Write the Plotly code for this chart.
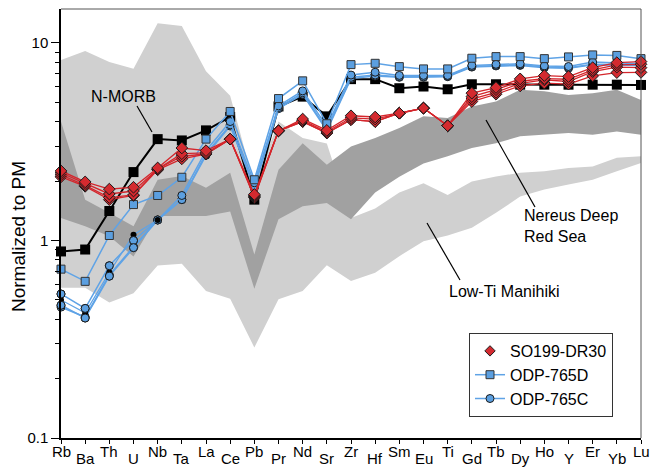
import plotly.graph_objects as go

# ---------------- data ----------------
elements = ["Rb", "Ba", "Th", "U", "Nb", "Ta", "La", "Ce", "Pb", "Pr", "Nd", "Sr", "Zr",
            "Hf", "Sm", "Eu", "Ti", "Gd", "Tb", "Dy", "Ho", "Y", "Er", "Yb", "Lu"]

# Low-Ti Manihiki field (light grey)
manihiki_upper = [8.2, 9.1, 8.0, 7.4, 12.6, 12.2, 7.2, 5.4, 1.9, 4.0, 3.3, 3.1, 1.3,
                  1.45, 1.75, 1.95, 1.7, 1.99, 2.11, 2.2, 2.24, 2.33, 2.37, 2.62, 2.67]
manihiki_lower = [0.577, 0.577, 0.485, 0.54, 0.748, 0.763, 0.555, 0.507, 0.287, 0.504, 0.555, 0.75, 0.623,
                  0.687, 0.833, 0.99, 1.06, 1.16, 1.38, 1.67, 1.81, 1.92, 2.03, 2.24, 2.47]

# Nereus Deep Red Sea field (dark grey)
nereus_upper = [4.0, 1.61, 1.38, 1.18, 2.03, 2.12, 1.85, 2.2, 0.85, 2.28, 3.11, 2.42, 2.99,
                3.3, 3.71, 4.25, 4.17, 4.77, 5.05, 5.79, 5.69, 5.46, 5.57, 5.79, 5.15]
nereus_lower = [1.30, 1.18, 1.05, 0.83, 1.33, 1.33, 1.33, 1.4, 0.57, 1.28, 1.49, 1.55, 1.28,
                1.75, 2.1, 2.45, 2.67, 2.94, 3.11, 3.37, 3.43, 3.5, 3.43, 3.56, 3.43]

n_morb = [0.88, 0.90, 1.41, 2.22, 3.26, 3.21, 3.61, 4.22, 1.61, 4.77, 5.35, 4.25, 6.56,
          6.56, 5.9, 6.02, 5.83, 6.18, 6.18, 6.15, 6.15, 6.15, 6.15, 6.15, 6.13]

odp_765d = [0.716, 0.621, 1.06, 1.52, 1.69, 2.09, 3.26, 4.5, 2.03, 5.23, 6.43, 3.9, 7.77,
            7.89, 7.59, 7.39, 7.39, 8.37, 8.53, 8.53, 8.33, 8.5, 8.7, 8.65, 8.33]

odp_765c_1 = [0.536, 0.453, 0.745, 1.0, 1.27, 1.69, 2.85, 4.0, 1.96, 4.8, 5.72, 3.78, 6.88,
              7.11, 6.85, 6.85, 6.85, 7.7, 7.8, 7.85, 7.65, 7.6, 8.0, 7.95, 7.85]
odp_765c_2 = [0.47, 0.405, 0.66, 0.92, 1.27, 1.61, 2.75, 3.85, 1.88, 4.71, 5.6, 3.65, 6.7,
              6.88, 6.75, 6.75, 6.8, 7.6, 7.7, 7.75, 7.55, 7.5, 7.8, 7.8, 7.75]
odp_765c_3 = [0.46, 0.41, 0.67, 0.93, 1.27, 1.61, 2.7, 3.8, 1.85, 4.65, 5.5, 3.6, 6.6,
              6.8, 6.7, 6.7, 6.75, 7.55, 7.65, 7.7, 7.5, 7.45, 7.75, 7.7, 7.7]
odp_765c_dots = [0.5, 0.43, 0.69, 1.07, 1.27]

dr30_a = [2.25, 1.98, 1.82, 1.86, 2.33, 2.94, 2.85, 3.26, 1.71, 3.59, 4.12, 3.61, 4.28,
          4.22, 4.41, 4.68, 3.81, 5.57, 5.95, 6.58, 6.84, 6.76, 7.5, 7.95, 8.05]
dr30_b = [2.2, 1.94, 1.72, 1.78, 2.3, 2.75, 2.78, 3.26, 1.69, 3.59, 4.05, 3.55, 4.18,
          4.12, 4.41, 4.68, 3.81, 5.35, 5.8, 6.4, 6.6, 6.55, 7.3, 7.75, 7.8]
dr30_c = [2.15, 1.9, 1.65, 1.7, 2.3, 2.67, 2.74, 3.26, 1.67, 3.59, 4.0, 3.5, 4.09,
          4.0, 4.41, 4.68, 3.81, 5.2, 5.62, 6.25, 6.5, 6.38, 7.16, 7.55, 7.5]
dr30_d = [2.1, 1.88, 1.61, 1.69, 2.28, 2.59, 2.74, 3.26, 1.65, 3.59, 4.0, 3.5, 4.09,
          4.0, 4.41, 4.68, 3.81, 5.05, 5.5, 6.06, 6.26, 6.19, 6.81, 7.08, 7.1]

legend_names = ["SO199-DR30", "ODP-765D", "ODP-765C"]

# ---------------- styling ----------------
FONT = "Arial, Liberation Sans, sans-serif"
LIGHT = "#d0d0d0"
DARK = "#a1a1a1"
RED = "#d42a2f"
RED_LINE = "#d4262c"
BLUE = "#5b9fe0"
BLUE_LINE = "#5fa3e6"

W, H = 654, 468
L, R, T, B = 61, 13, 9, 30
PW, PH = W - L - R, H - T - B


def px(xp, yp):
    return (xp - L) / PW, (H - B - yp) / PH


xs = list(range(len(elements)))
fig = go.Figure()


def band(upper, lower, color):
    fig.add_trace(go.Scatter(
        x=xs + xs[::-1], y=upper + lower[::-1], fill="toself", fillcolor=color,
        mode="lines", line=dict(width=0, color=color), hoverinfo="skip", showlegend=False))


band(manihiki_upper, manihiki_lower, LIGHT)
band(nereus_upper, nereus_lower, DARK)

# N-MORB
fig.add_trace(go.Scatter(
    x=xs, y=n_morb, mode="lines+markers", line=dict(color="black", width=2),
    marker=dict(symbol="square", size=10, color="black"), showlegend=False, cliponaxis=False))

# ODP-765C (circles)
for ser in (odp_765c_3, odp_765c_2, odp_765c_1):
    fig.add_trace(go.Scatter(
        x=xs, y=ser, mode="lines+markers", line=dict(color=BLUE_LINE, width=1.5),
        marker=dict(symbol="circle", size=8, color=BLUE, line=dict(color="#1a1a1a", width=1)),
        showlegend=False, cliponaxis=False))
fig.add_trace(go.Scatter(
    x=xs[:len(odp_765c_dots)], y=odp_765c_dots, mode="lines+markers",
    line=dict(color=BLUE_LINE, width=1.2),
    marker=dict(symbol="circle", size=6, color="black"), showlegend=False))
# replot circles on top of the small black dots
fig.add_trace(go.Scatter(
    x=xs[:4] + xs[:4], y=odp_765c_1[:4] + odp_765c_2[:4], mode="markers",
    marker=dict(symbol="circle", size=8, color=BLUE, line=dict(color="#1a1a1a", width=1)),
    showlegend=False, cliponaxis=False))

# ODP-765D (squares)
fig.add_trace(go.Scatter(
    x=xs, y=odp_765d, mode="lines+markers", line=dict(color=BLUE_LINE, width=1.5),
    marker=dict(symbol="square", size=8, color=BLUE, line=dict(color="#333333", width=1)),
    showlegend=False, cliponaxis=False))

# SO199-DR30 (red diamonds)
for ser in (dr30_d, dr30_c, dr30_b, dr30_a):
    fig.add_trace(go.Scatter(
        x=xs, y=ser, mode="lines+markers", line=dict(color=RED_LINE, width=1.3),
        marker=dict(symbol="diamond", size=9, color=RED, line=dict(color="#1a1a1a", width=1)),
        showlegend=False, cliponaxis=False))

# legend-only entries
fig.add_trace(go.Scatter(
    x=[None], y=[None], mode="markers", name=legend_names[0],
    marker=dict(symbol="diamond", size=8, color=RED, line=dict(color="#1a1a1a", width=1))))
fig.add_trace(go.Scatter(
    x=[None], y=[None], mode="lines+markers", name=legend_names[1],
    line=dict(color=BLUE_LINE, width=1.5),
    marker=dict(symbol="square", size=8, color=BLUE, line=dict(color="#333333", width=1))))
fig.add_trace(go.Scatter(
    x=[None], y=[None], mode="lines+markers", name=legend_names[2],
    line=dict(color=BLUE_LINE, width=1.5),
    marker=dict(symbol="circle", size=8, color=BLUE, line=dict(color="#1a1a1a", width=1))))

# staggered element labels
annotations = []
for i, el in enumerate(elements):
    yy = px(0, 451)[1] if i % 2 == 0 else px(0, 458)[1]
    annotations.append(dict(x=i, xref="x", y=yy, yref="paper", text=el, showarrow=False,
                            xanchor="center", yanchor="middle",
                            font=dict(family=FONT, size=15, color="black")))

# y-axis title
tx, ty = px(18, 237)
annotations.append(dict(x=tx, y=ty, xref="paper", yref="paper", text="Normalized to PM",
                        showarrow=False, textangle=-90, xanchor="center", yanchor="middle",
                        font=dict(family=FONT, size=19, color="black")))

# text labels
tx, ty = px(123, 96)
annotations.append(dict(x=tx, y=ty, xref="paper", yref="paper", text="N-MORB", showarrow=False,
                        xanchor="center", yanchor="middle", font=dict(family=FONT, size=16, color="black")))
tx, ty = px(522, 226)
annotations.append(dict(x=tx, y=ty, xref="paper", yref="paper", text="Nereus Deep<br>Red Sea",
                        showarrow=False, xanchor="left", yanchor="middle", align="left",
                        font=dict(family=FONT, size=16, color="black")))
tx, ty = px(504, 291)
annotations.append(dict(x=tx, y=ty, xref="paper", yref="paper", text="Low-Ti Manihiki", showarrow=False,
                        xanchor="center", yanchor="middle", font=dict(family=FONT, size=16, color="black")))

shapes = []
for (x0, y0, x1, y1) in [(137, 106, 152, 132), (486, 120, 535, 207), (427, 223, 460, 280)]:
    a0, b0 = px(x0, y0)
    a1, b1 = px(x1, y1)
    shapes.append(dict(type="line", xref="paper", yref="paper", x0=a0, y0=b0, x1=a1, y1=b1,
                       line=dict(color="black", width=1.2)))
# frame: top and right
shapes.append(dict(type="line", xref="paper", yref="paper", x0=0, y0=1, x1=1, y1=1,
                   line=dict(color="#555555", width=1)))
shapes.append(dict(type="line", xref="paper", yref="paper", x0=1, y0=0, x1=1, y1=1,
                   line=dict(color="#555555", width=1)))

minor_vals = [k * 10 ** e for e in (-1, 0) for k in range(2, 10)]

lx, ly = px(469, 333)
fig.update_layout(
    width=W, height=H,
    margin=dict(l=L, r=R, t=T, b=B, pad=0),
    paper_bgcolor="white", plot_bgcolor="white",
    font=dict(family=FONT, color="black"),
    showlegend=True,
    legend=dict(x=lx, y=ly, xanchor="left", yanchor="top", bgcolor="white",
                bordercolor="#333333", borderwidth=1, font=dict(family=FONT, size=16, color="black"),
                itemwidth=30, tracegroupgap=0),
    xaxis=dict(range=[0, len(elements) - 1], showgrid=False, zeroline=False,
               tickmode="array", tickvals=xs, ticktext=[""] * len(xs),
               ticks="outside", ticklen=4, tickcolor="black",
               showline=True, linecolor="black", linewidth=1.5),
    yaxis=dict(type="log", range=[-1, 1.172], showgrid=False, zeroline=False,
               tickmode="array", tickvals=[0.1, 1, 10], ticktext=["0.1", "1", "10"],
               ticks="outside", ticklen=8, tickcolor="black",
               tickfont=dict(family=FONT, size=15, color="black"),
               minor=dict(tickmode="array", tickvals=minor_vals, ticks="outside", ticklen=4,
                          tickcolor="black", showgrid=False),
               showline=True, linecolor="black", linewidth=1.5),
    annotations=annotations,
    shapes=shapes,
)

fig.write_html("out.html")
